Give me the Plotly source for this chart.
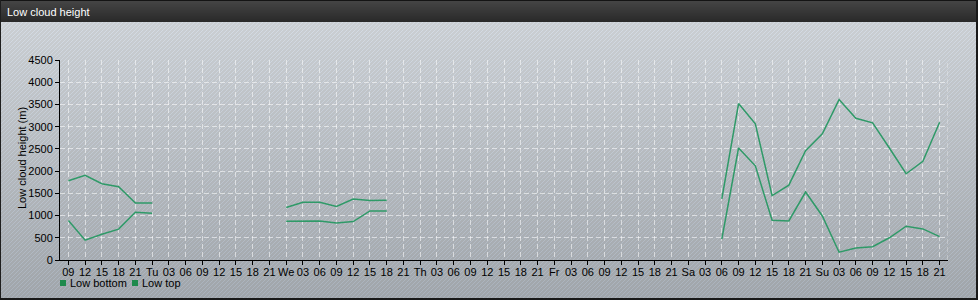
import base64
import struct
import zlib

import numpy as np
import plotly.graph_objects as go

# ---------------- data ----------------
tick_labels = [
    "09", "12", "15", "18", "21",
    "Tu", "03", "06", "09", "12", "15", "18", "21",
    "We", "03", "06", "09", "12", "15", "18", "21",
    "Th", "03", "06", "09", "12", "15", "18", "21",
    "Fr", "03", "06", "09", "12", "15", "18", "21",
    "Sa", "03", "06", "09", "12", "15", "18", "21",
    "Su", "03", "06", "09", "12", "15", "18", "21",
]

low_bottom = [
    890, 445, 580, 695, 1075, 1050,
    None, None, None, None, None, None, None,
    870, 870, 875, 835, 865, 1105, 1105,
    None, None, None, None, None, None, None, None, None, None,
    None, None, None, None, None, None, None, None, None,
    470, 2520, 2120, 895, 880, 1530, 990, 175, 270, 300, 500, 760, 700, 525,
]

low_top = [
    1785, 1905, 1715, 1650, 1280, 1280,
    None, None, None, None, None, None, None,
    1180, 1300, 1300, 1205, 1370, 1340, 1345,
    None, None, None, None, None, None, None, None, None, None,
    None, None, None, None, None, None, None, None, None,
    1375, 3520, 3065, 1450, 1685, 2460, 2840, 3610, 3190, 3085, 2520, 1940, 2220, 3100,
]

series_names = ["Low bottom", "Low top"]
y_ticks = [0, 500, 1000, 1500, 2000, 2500, 3000, 3500, 4000, 4500]
y_title = "Low cloud height (m)"
chart_title = "Low cloud height"

x_pos = list(range(len(tick_labels)))

# ---------------- background picture (style only) ----------------
W, H = 978, 300
img = np.zeros((H, W, 3), dtype=np.float64)
yy, xx = np.mgrid[0:H, 0:W]
t = np.clip((yy - 22) / (H - 22), 0, 1)[..., None]
top_c = np.array([203, 207, 211], dtype=float)
bot_c = np.array([160, 165, 170], dtype=float)
img[:] = top_c * (1 - t) + bot_c * t
stripe = ((xx + yy) % 4 == 0)
img[stripe] += np.array([10, 13, 18])
# title bar
tb = yy < 22
tt = (yy / 21.0)[..., None]
bar = np.array([70, 70, 70]) * (1 - tt) + np.array([42, 42, 42]) * tt
img[tb] = bar[tb]
# frame
img[0, :] = [20, 20, 20]
img[:, 0] = [30, 30, 30]
img[:, W - 2:] = [25, 25, 25]
img[H - 2:, :] = [25, 25, 25]
img = np.clip(img, 0, 255).astype(np.uint8)


def to_png(arr):
    h, w, _ = arr.shape
    raw = b"".join(b"\x00" + arr[r].tobytes() for r in range(h))

    def chunk(tag, data):
        c = struct.pack(">I", len(data)) + tag + data
        return c + struct.pack(">I", zlib.crc32(tag + data) & 0xFFFFFFFF)

    return (b"\x89PNG\r\n\x1a\n"
            + chunk(b"IHDR", struct.pack(">IIBBBBB", w, h, 8, 2, 0, 0, 0))
            + chunk(b"IDAT", zlib.compress(raw, 9))
            + chunk(b"IEND", b""))


bg_uri = "data:image/png;base64," + base64.b64encode(to_png(img)).decode()

# ---------------- figure ----------------
ML, MR, MT, MB = 60, 30, 60, 40
PW, PH = W - ML - MR, H - MT - MB


def px_x(p):
    return (p - ML) / PW


def px_y(p):
    return (H - MB - p) / PH


line_color = "#2f9a68"
fig = go.Figure()
for name, vals in zip(series_names, [low_bottom, low_top]):
    fig.add_trace(go.Scatter(
        x=x_pos, y=vals, mode="lines", name=name,
        line=dict(color=line_color, width=1.5),
        connectgaps=False, showlegend=False, hoverinfo="x+y+name",
    ))

font = "Liberation Sans, Arial, sans-serif"
grid_col = "rgba(255,255,255,0.55)"

fig.update_layout(
    width=W, height=H,
    margin=dict(l=ML, r=MR, t=MT, b=MB, pad=0),
    paper_bgcolor="#b8bcc0",
    plot_bgcolor="rgba(255,255,255,0.06)",
    font=dict(family=font, size=11, color="#000000"),
    showlegend=False,
    images=[dict(source=bg_uri, xref="paper", yref="paper",
                 x=px_x(0), y=px_y(0), sizex=W / PW, sizey=H / PH,
                 xanchor="left", yanchor="top", sizing="stretch",
                 layer="below")],
    xaxis=dict(
        range=[-0.5, len(tick_labels) - 0.5],
        tickmode="array", tickvals=x_pos, ticktext=tick_labels,
        showline=True, linecolor="#000000", linewidth=1,
        ticks="outside", ticklen=4, tickcolor="#000000",
        ticklabelstandoff=-2,
        showgrid=True, gridcolor=grid_col, griddash="5px,3px", gridwidth=1,
        zeroline=False, tickfont=dict(size=11, family=font),
        fixedrange=True,
    ),
    yaxis=dict(
        range=[0, 4500],
        tickmode="array", tickvals=y_ticks,
        showline=True, linecolor="#000000", linewidth=1,
        ticks="outside", ticklen=4, tickcolor="#000000",
        showgrid=True, gridcolor=grid_col, griddash="5px,3px", gridwidth=1,
        zeroline=False, tickfont=dict(size=11, family=font),
        fixedrange=True,
    ),
    shapes=[
        dict(type="line", xref="x", yref="y", x0=len(tick_labels) - 0.5, x1=len(tick_labels) - 0.5,
             y0=0, y1=4500, line=dict(color=grid_col, width=1, dash="5px,3px")),
        dict(type="rect", xref="paper", yref="paper",
             x0=px_x(60), x1=px_x(66), y0=px_y(286), y1=px_y(280),
             fillcolor="#1f8a4c", line=dict(width=0)),
        dict(type="rect", xref="paper", yref="paper",
             x0=px_x(132), x1=px_x(138), y0=px_y(286), y1=px_y(280),
             fillcolor="#1f8a4c", line=dict(width=0)),
    ],
    annotations=[
        dict(text=chart_title, xref="paper", yref="paper",
             x=px_x(5), y=px_y(12), xanchor="left", yanchor="middle",
             showarrow=False, font=dict(color="#ffffff", size=11, family=font)),
        dict(text=y_title, xref="paper", yref="paper", textangle=-90,
             x=px_x(22), y=px_y(158), xanchor="center", yanchor="middle",
             showarrow=False, font=dict(size=11, family=font)),
        dict(text=series_names[0], xref="paper", yref="paper",
             x=px_x(68), y=px_y(283), xanchor="left", yanchor="middle",
             showarrow=False, font=dict(size=11, family=font)),
        dict(text=series_names[1], xref="paper", yref="paper",
             x=px_x(140), y=px_y(283), xanchor="left", yanchor="middle",
             showarrow=False, font=dict(size=11, family=font)),
    ],
)

fig.write_html("out.html")
